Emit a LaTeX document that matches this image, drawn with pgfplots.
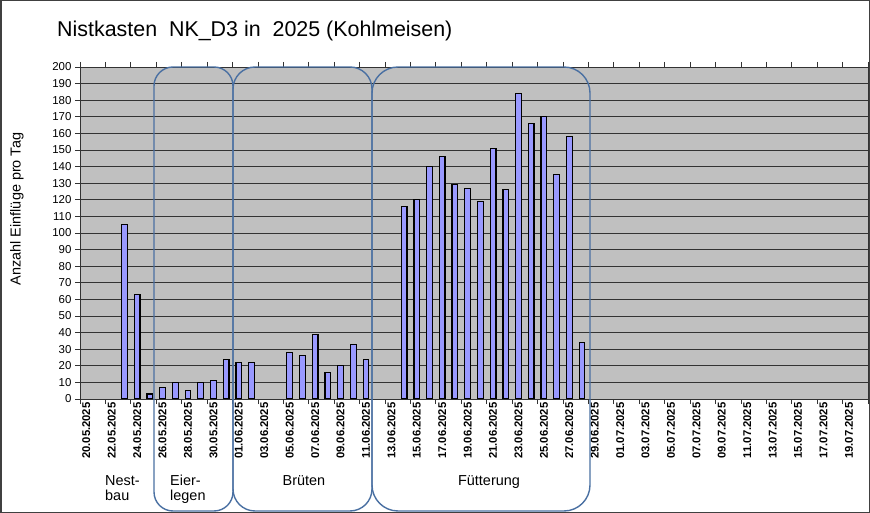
\documentclass[border=0pt]{standalone}
\usepackage{pgfplots}
\pgfplotsset{compat=1.18}
\usepackage{fontspec}
\setmainfont{Liberation Sans}

\definecolor{plotgray}{RGB}{192,192,192}
\definecolor{barblue}{RGB}{153,153,255}
\definecolor{phaseblue}{RGB}{74,112,162}
\definecolor{framegray}{RGB}{64,64,64}

\begin{document}
\begin{tikzpicture}
\useasboundingbox (0bp,0bp) rectangle (870bp,513bp);

\begin{axis}[
  at={(80bp,114bp)}, anchor=south west,
  scale only axis, width=788bp, height=332bp,
  xmin=-0.5, xmax=61.5, ymin=0, ymax=200,
  axis background/.style={fill=plotgray},
  axis line style={black!80, line width=0.8bp},
  ymajorgrids, major grid style={black!80, line width=0.9bp},
  ytick={0,10,...,200},
  tick align=outside, major tick length=5bp,
  tick style={black!80, line width=0.8bp},
  xtick={-0.5,1.5,...,61.5}, xticklabels={},
  extra x ticks={0,2,...,60},
  extra x tick labels={20.05.2025,22.05.2025,24.05.2025,26.05.2025,28.05.2025,30.05.2025,
    01.06.2025,03.06.2025,05.06.2025,07.06.2025,09.06.2025,11.06.2025,13.06.2025,15.06.2025,
    17.06.2025,19.06.2025,21.06.2025,23.06.2025,25.06.2025,27.06.2025,29.06.2025,01.07.2025,
    03.07.2025,05.07.2025,07.07.2025,09.07.2025,11.07.2025,13.07.2025,15.07.2025,17.07.2025,
    19.07.2025},
  extra x tick style={major tick length=0pt, grid=none,
    xticklabel style={rotate=90, anchor=east, font=\fontsize{11.3}{13}\selectfont\bfseries}},
  yticklabel style={font=\fontsize{11.5}{13}\selectfont},
  /pgf/number format/assume math mode=true,
]
% Einfluege pro Tag (Index 0 = 20.05.2025)
\addplot[ybar, bar width=0.45, fill=barblue, draw=black, line width=1.2bp] coordinates {
(3,105) (4,63) (5,3) (6,7) (7,10) (8,5) (9,10) (10,11) (11,24) (12,22) (13,22)
(16,28) (17,26) (18,39) (19,16) (20,20) (21,33) (22,24)
(25,116) (26,120) (27,140) (28,146) (29,129) (30,127) (31,119) (32,151) (33,126)
(34,184) (35,166) (36,170) (37,135) (38,158) (39,34)
};
\end{axis}

% Phasen
\begin{scope}
\clip (0bp,0bp) rectangle (870bp,513bp);
\draw[phaseblue, line width=1.4bp, rounded corners=19bp] (154bp,446bp) rectangle (233bp,2bp);
\draw[phaseblue, line width=1.4bp, rounded corners=22bp] (233bp,446bp) rectangle (372bp,2bp);
\draw[phaseblue, line width=1.4bp, rounded corners=26bp] (372bp,446bp) rectangle (590bp,2bp);
\end{scope}

\begin{scope}[font=\fontsize{14.5}{17}\selectfont]
\node[anchor=base west, inner sep=0pt] at (105bp,28bp) {Nest-};
\node[anchor=base west, inner sep=0pt] at (105bp,13bp) {bau};
\node[anchor=base west, inner sep=0pt] at (170bp,28bp) {Eier-};
\node[anchor=base west, inner sep=0pt] at (170bp,13bp) {legen};
\node[anchor=base, inner sep=0pt] at (304bp,28bp) {Brüten};
\node[anchor=base, inner sep=0pt] at (489bp,28bp) {Fütterung};
\node[rotate=90, inner sep=0pt] at (17bp,304bp) {Anzahl Einflüge pro Tag};
\end{scope}

\node[anchor=base west, inner sep=0pt, font=\fontsize{21.5}{26}\selectfont]
  at (57bp,476bp) {Nistkasten\ \ NK\_D3 in\ \ 2025 (Kohlmeisen)};

\draw[framegray, line width=1.5bp] (0.75bp,0.75bp) rectangle (869.25bp,512.25bp);
\end{tikzpicture}
\end{document}
